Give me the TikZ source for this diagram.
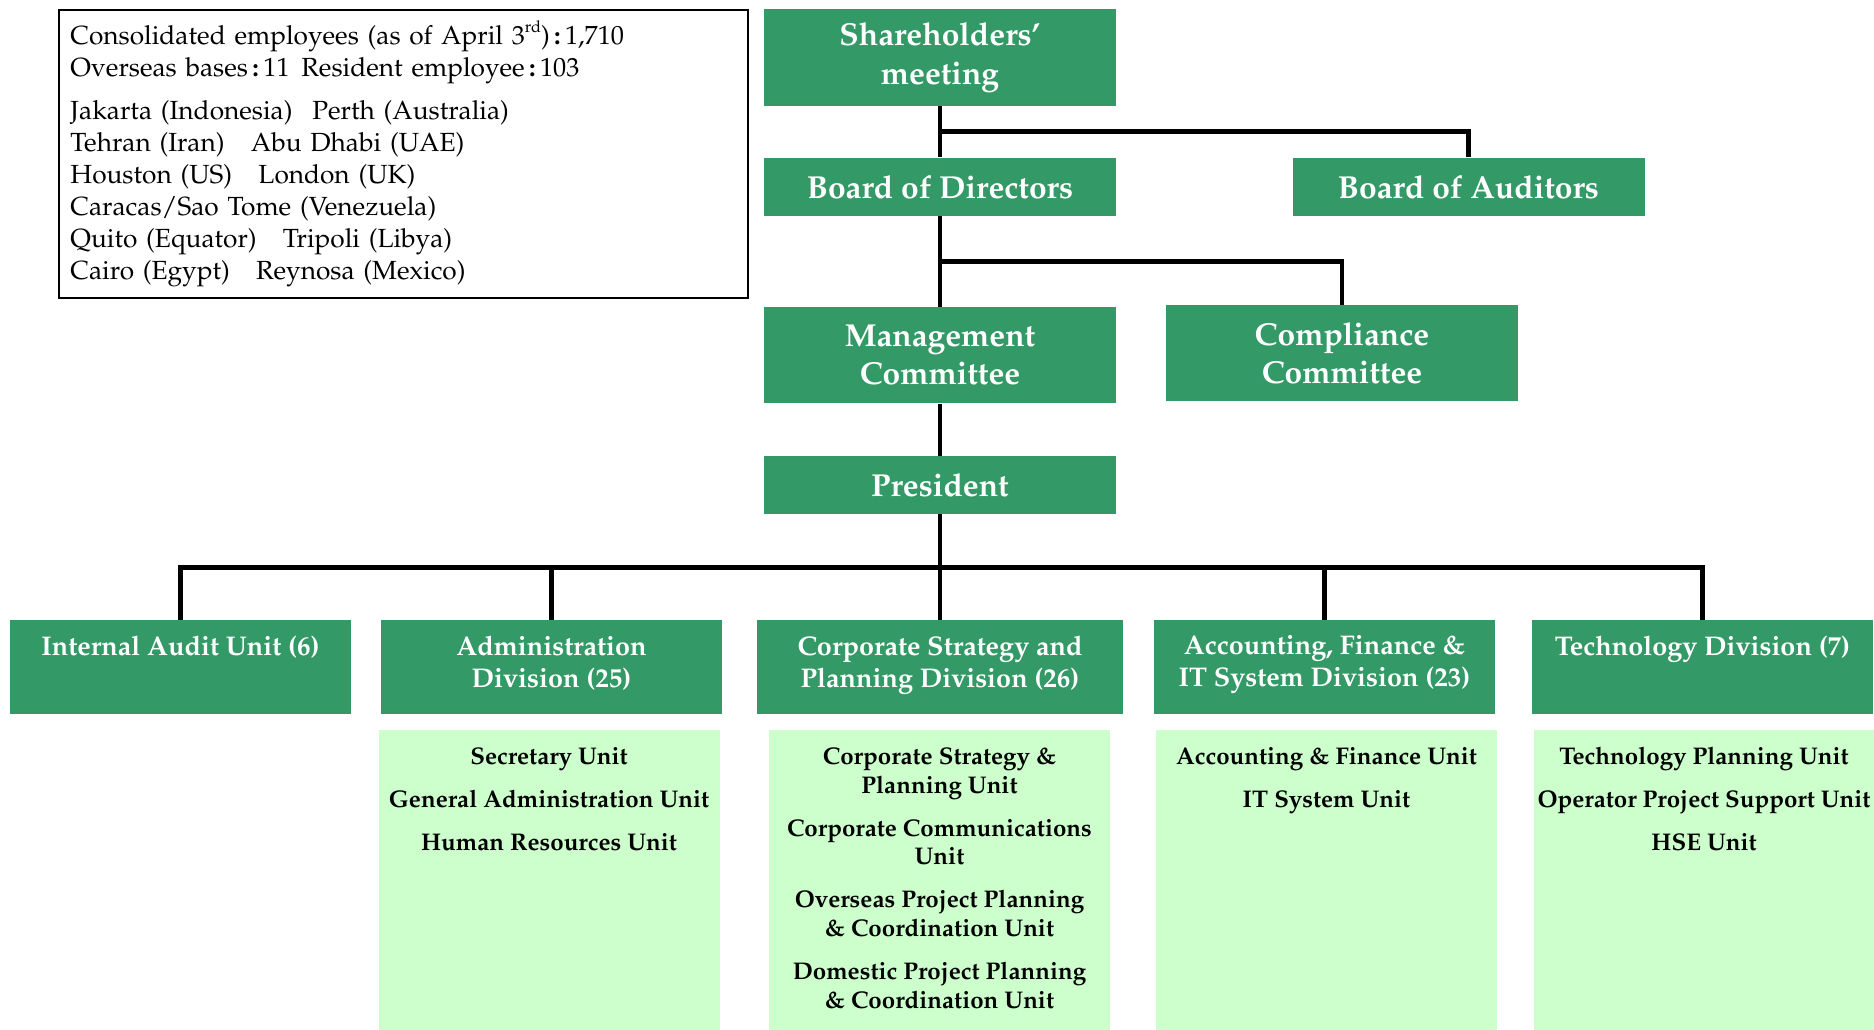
\documentclass[tikz,border=0pt]{standalone}
\usepackage[T1]{fontenc}
\usepackage{mathpazo}
\usetikzlibrary{calc}
\definecolor{dkgreen}{HTML}{339966}
\definecolor{ltgreen}{HTML}{CCFFCC}

\begin{document}
\begin{tikzpicture}[x=.4pt,y=-.4pt]
\useasboundingbox(0,0)rectangle(1874,1030);
\node[draw,line width=1pt,inner xsep=4.6pt,text width=266.4pt,minimum height=115.2pt,align=left,font=\fontsize{10.5}{12.8}\selectfont](INFO)at(403.5,154){Consolidated employees (as of April 3\raisebox{.45em}{\fontsize{6.5}{6.5}\selectfont rd})\,\textbf{:}\,1,710\\
Overseas bases\,\textbf{:}\,11\hspace{.45em}Resident employee\,\textbf{:}\,103\\[4.5pt]
Jakarta (Indonesia)\hspace{.75em}Perth (Australia)\\
Tehran (Iran)\quad Abu Dhabi (UAE)\\
Houston (US)\quad London (UK)\\
Caracas/Sao Tome (Venezuela)\\
Quito (Equator)\quad Tripoli (Libya)\\
Cairo (Egypt)\quad Reynosa (Mexico)};
\begin{scope}[every node/.style={fill=dkgreen,text=white,align=center,minimum width=140.8pt,inner sep=0,font=\bfseries\fontsize{12.7}{15.3}\selectfont}]
\node[minimum height=38.5pt](SH)at(940,57.6){Shareholders'\\meeting};
\node[minimum height=23.1pt](BD)at(940,186.8){Board of Directors};
\node[minimum height=23.1pt](BA)at(1468.5,186.8){Board of Auditors};
\node[minimum height=38.5pt](MC)at(940,355.2){Management\\Committee};
\node[minimum height=38.5pt](CC)at(1342,353.3){Compliance\\Committee};
\node[minimum height=23.1pt](PR)at(940,485){President};
\end{scope}
\begin{scope}[every node/.style={fill=dkgreen,minimum height=37.6pt,minimum width=136.4pt,inner sep=0}]
\node(IA)at(180.5,667.5){};
\node(AD)at(551.5,667.5){};
\node[minimum width=146.4pt](CS)at(940,667.5){};
\node(AF)at(1324.5,667.5){};
\node(TD)at(1702.5,667.5){};
\end{scope}
\begin{scope}[every node/.style={anchor=north,yshift=-6pt,text=white,align=center,inner sep=0,font=\bfseries\fontsize{10.8}{12.8}\selectfont}]
\node(IAl)at(IA.north){Internal Audit Unit (6)};
\node(ADl)at(AD.north){Administration\\Division (25)};
\node(CSl)at(CS.north){Corporate Strategy and\\Planning Division (26)};
\node(AFl)at(AF.north){Accounting, Finance \&\\IT System Division (23)};
\node(TDl)at(TD.north){Technology Division (7)};
\end{scope}
\begin{scope}[every node/.style={fill=ltgreen,minimum height=120pt,minimum width=136.4pt,inner sep=0}]
\node(ADu)at(549,880){};
\node(CSu)at(939.5,880){};
\node(AFu)at(1326.5,880){};
\node(TDu)at(1704,880){};
\end{scope}
\begin{scope}[every node/.style={anchor=north,yshift=-7pt,align=center,inner sep=0,font=\bfseries\fontsize{9.65}{11.5}\selectfont}]
\node(ADt)at(ADu.north){Secretary Unit\\[5.7pt]General Administration Unit\\[5.7pt]Human Resources Unit};
\node(CSt)at(CSu.north){Corporate Strategy \&\\Planning Unit\\[5.7pt]Corporate Communications\\Unit\\[5.7pt]Overseas Project Planning\\\& Coordination Unit\\[5.7pt]Domestic Project Planning\\\& Coordination Unit};
\node(AFt)at(AFu.north){Accounting \& Finance Unit\\[5.7pt]IT System Unit};
\node(TDt)at(TDu.north){Technology Planning Unit\\[5.7pt]Operator Project Support Unit\\[5.7pt]HSE Unit};
\end{scope}
\coordinate(J1)at($(SH.south)!.5!(BD.north)$);
\coordinate(J2)at($(BD.south)!.5!(MC.north)$);
\coordinate(J3)at($(PR.south)!.5!(CS.north)$);
\begin{scope}[line width=1.9pt]
\draw(SH)--(BD);
\draw(BA.north)|-(J1);
\draw(BD)--(MC);
\draw(CC.north)|-(J2);
\draw(MC)--(PR);
\draw(PR)--(CS);
\foreach \d in {IA,AD,AF,TD}\draw(\d.north)|-(J3);
\end{scope}
\end{tikzpicture}
\end{document}
